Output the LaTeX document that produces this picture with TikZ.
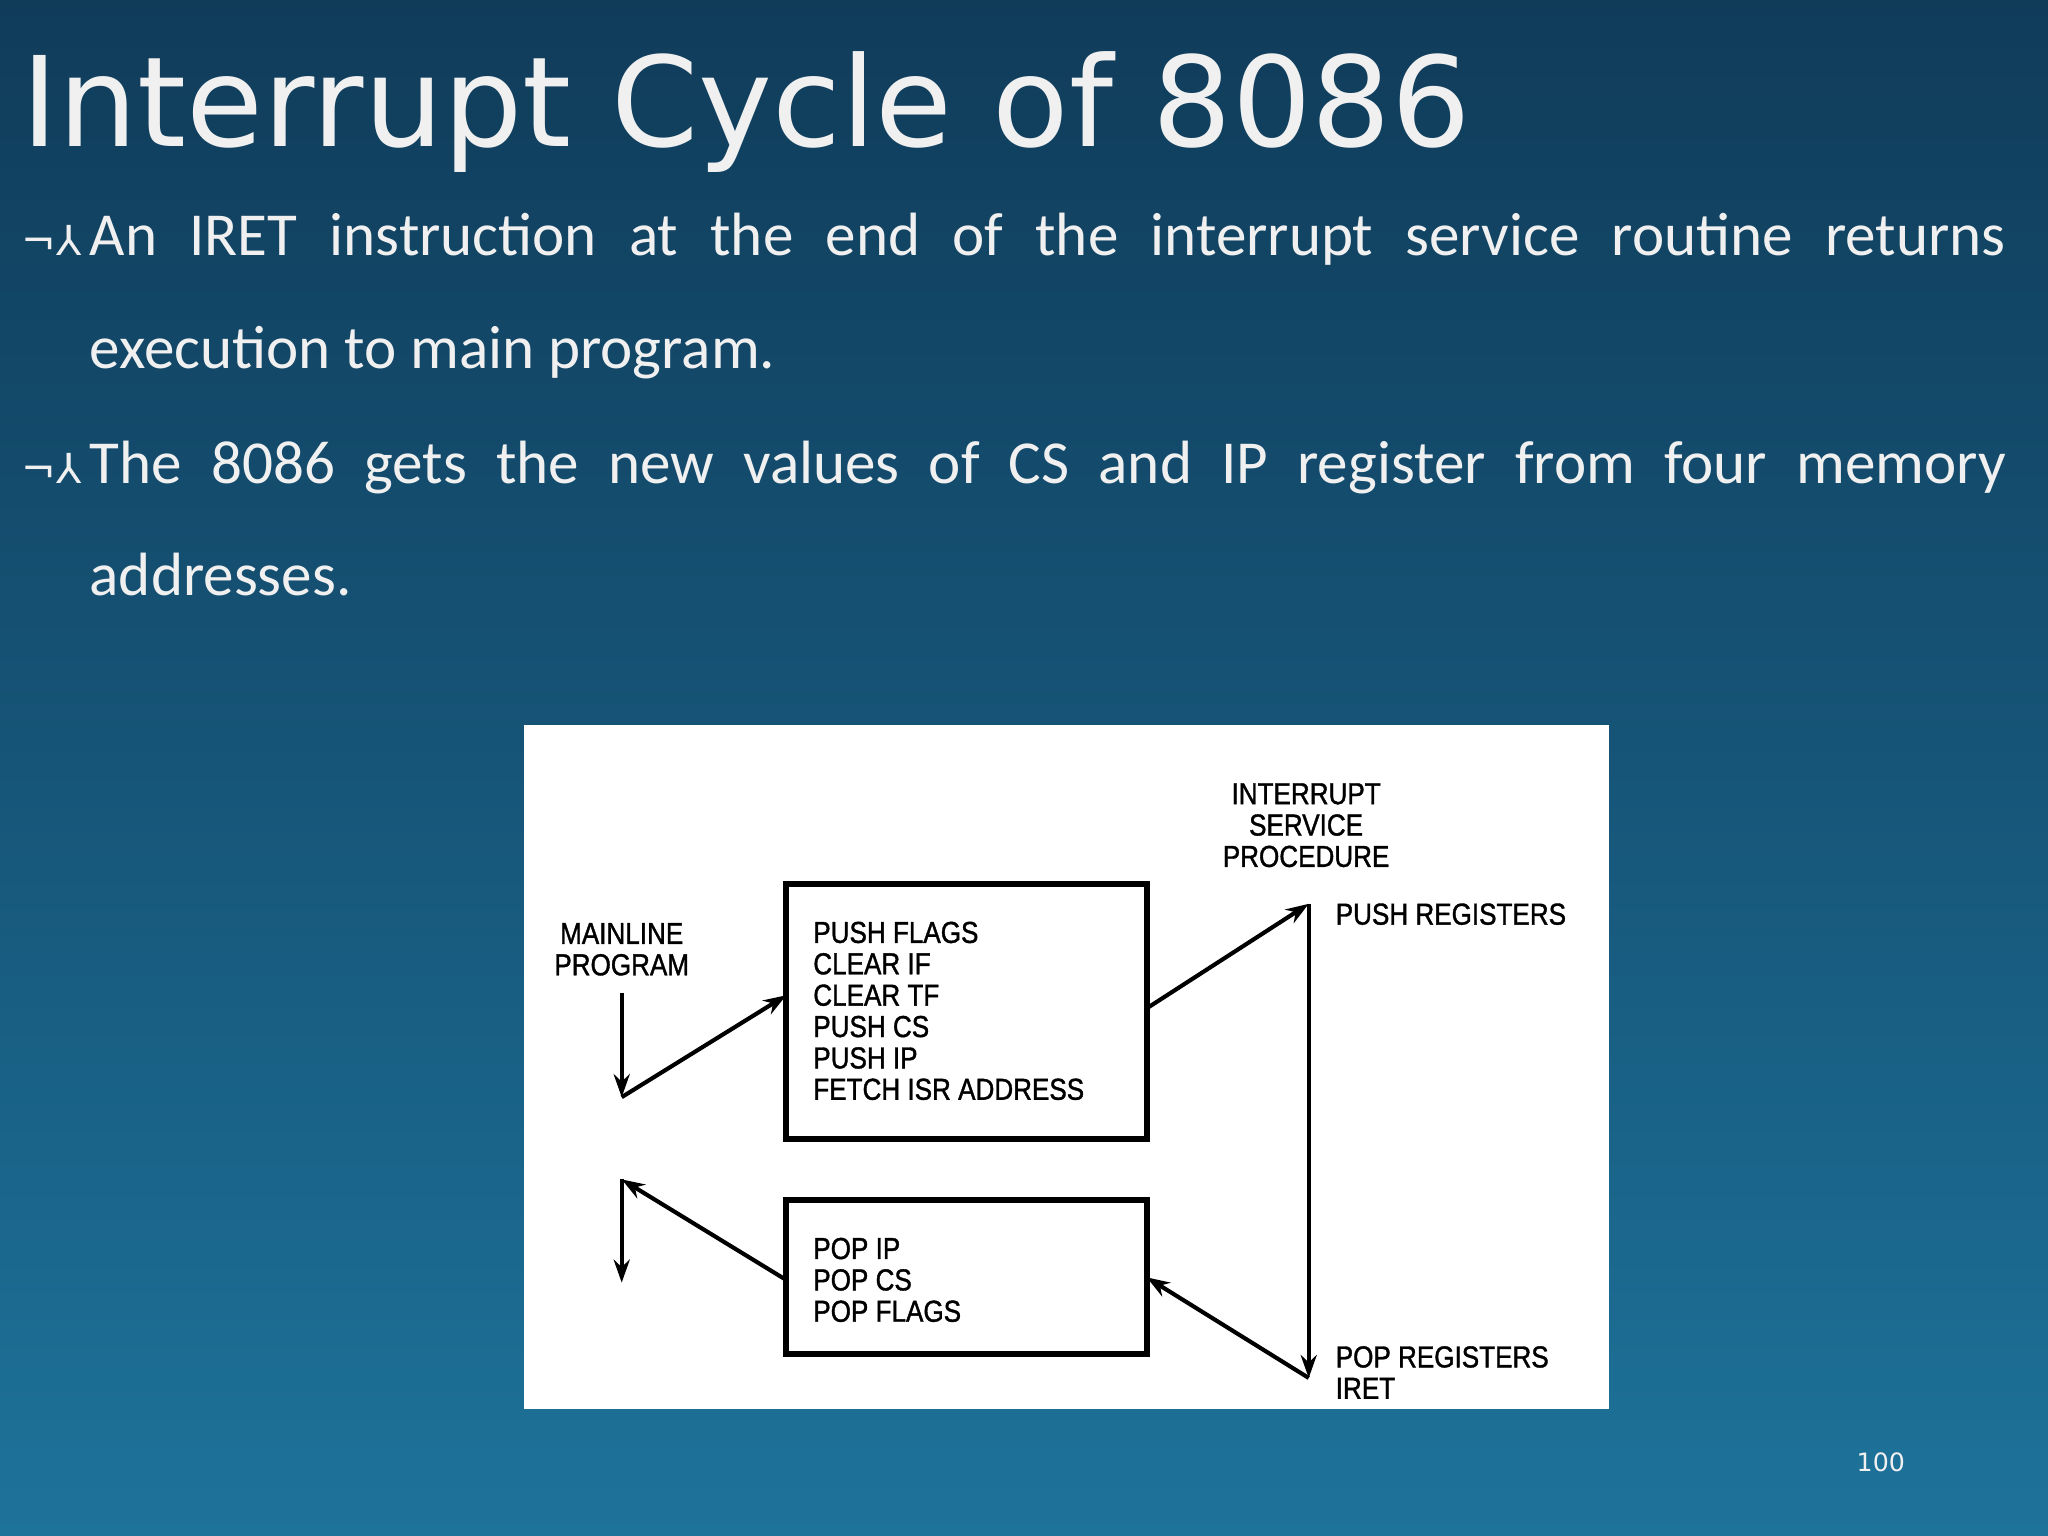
\documentclass[tikz,border=0pt]{standalone}
\usepackage{fontspec}
\setmainfont{Carlito}
\newfontfamily\titlefont{DejaVu Sans}
\newfontfamily\diafont[FakeStretch=0.86,FakeBold=1.2]{Liberation Sans}
\usetikzlibrary{arrows.meta}
\definecolor{bgtop}{RGB}{16,60,90}
\definecolor{bgbot}{RGB}{30,115,155}
\definecolor{txt}{RGB}{240,240,240}
\begin{document}
\begin{tikzpicture}[x=0.01cm,y=-0.01cm,
  dtext/.style={font=\diafont\fontsize{6.6}{6.83}\selectfont,align=left,inner sep=0,text=black},
  arr/.style={line width=0.9pt,-{Stealth[length=5pt,width=3.5pt]}},
  boxst/.style={draw,line width=1.3pt}]
\useasboundingbox (0,0) rectangle (1568,1176);
\shade[top color=bgtop,bottom color=bgbot,middle color={rgb,255:red,22;green,85;blue,120}] (0,0) rectangle (1568,1176);
\node[anchor=base west,inner sep=0,text=txt,font=\titlefont\fontsize{27.2}{32}\selectfont] (title) at (16,112) {Interrupt Cycle of 8086};
\begin{scope}[every node/.style={anchor=base west,inner sep=0,text=txt,font=\fontsize{13.3}{16}\selectfont}]
\node (b1) at (16,196) {\titlefont\fontsize{9}{10}\selectfont ¬⅄};
\node (l1) at (68,196) {\makebox[1467\dimexpr0.01cm\relax][s]{An IRET instruction at the end of the interrupt service routine returns}};
\node (l2) at (68,282) {execution to main program.};
\node (b2) at (16,370) {\titlefont\fontsize{9}{10}\selectfont ¬⅄};
\node (l3) at (68,370) {\makebox[1467\dimexpr0.01cm\relax][s]{The 8086 gets the new values of CS and IP register from four memory}};
\node (l4) at (68,456) {addresses.};
\end{scope}
\node[anchor=base,inner sep=0,text=txt,font=\titlefont\fontsize{5.5}{6}\selectfont] (pg) at (1440,1127) {100};
% diagram
\fill[white] (401,555) rectangle (1232,1079);
\draw[boxst] (602,677) rectangle (878,872);
\draw[boxst] (602,919) rectangle (878,1037);
\node[dtext,anchor=north west] (t1) at (622,705) {PUSH FLAGS\\CLEAR IF\\CLEAR TF\\PUSH CS\\PUSH IP\\FETCH ISR ADDRESS};
\node[dtext,anchor=north west] (t2) at (622,947) {POP IP\\POP CS\\POP FLAGS};
\node[dtext,align=center,anchor=north] (mp) at (476,706) {MAINLINE\\PROGRAM};
\node[dtext,align=center,anchor=north] (isp) at (1000,599) {INTERRUPT\\SERVICE\\PROCEDURE};
\node[dtext,anchor=north west] (pr) at (1022,691) {PUSH REGISTERS};
\node[dtext,anchor=north west] (popr) at (1022,1030) {POP REGISTERS\\IRET};
\coordinate (m1) at (476,760); \coordinate (m2) at (476,840);
\coordinate (u1) at (602,762); \coordinate (u2) at (878,772);
\coordinate (v1) at (1002,692); \coordinate (v2) at (1002,1055);
\coordinate (w1) at (878,978); \coordinate (w2) at (602,980);
\coordinate (n1) at (476,903); \coordinate (n2) at (476,982);
\draw[arr] (m1) -- (m2);
\draw[arr] (m2) -- (u1);
\draw[arr] (u2) -- (v1);
\draw[arr] (v1) -- (v2);
\draw[arr] (v2) -- (w1);
\draw[arr] (w2) -- (n1);
\draw[arr] (n1) -- (n2);
\end{tikzpicture}
\end{document}
